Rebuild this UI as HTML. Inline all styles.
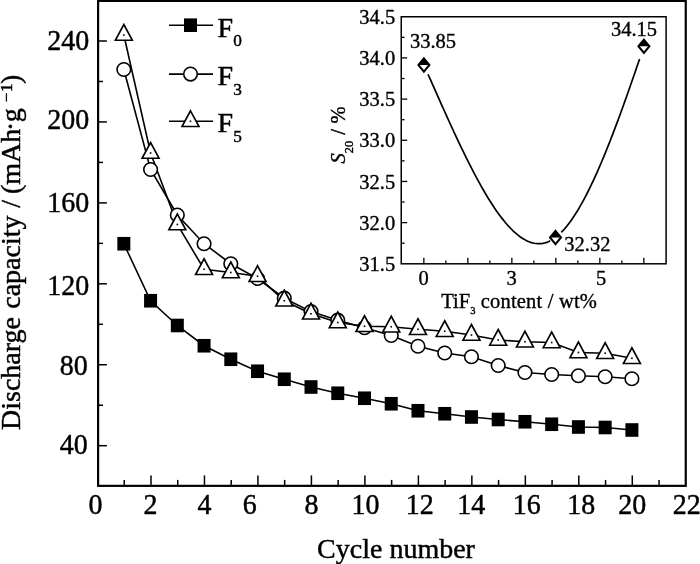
<!DOCTYPE html>
<html><head><meta charset="utf-8"><title>Chart</title>
<style>html,body{margin:0;padding:0;background:#fff;}svg{display:block;will-change:transform;}</style></head>
<body>
<svg width="700" height="564" viewBox="0 0 700 564" font-family="Liberation Serif, serif">
<rect x="98.1" y="0.9" width="587.65" height="484.95" fill="none" stroke="#000" stroke-width="2.2"/>
<g stroke="#000" stroke-width="1.5">
<line x1="98" x2="106.9" y1="445.70" y2="445.70"/>
<line x1="98" x2="103" y1="405.23" y2="405.23"/>
<line x1="98" x2="106.9" y1="364.76" y2="364.76"/>
<line x1="98" x2="103" y1="324.29" y2="324.29"/>
<line x1="98" x2="106.9" y1="283.82" y2="283.82"/>
<line x1="98" x2="103" y1="243.35" y2="243.35"/>
<line x1="98" x2="106.9" y1="202.88" y2="202.88"/>
<line x1="98" x2="103" y1="162.41" y2="162.41"/>
<line x1="98" x2="106.9" y1="121.94" y2="121.94"/>
<line x1="98" x2="103" y1="81.47" y2="81.47"/>
<line x1="98" x2="106.9" y1="41.00" y2="41.00"/>
<line x1="124.24" x2="124.24" y1="485.8" y2="479.90000000000003"/>
<line x1="150.98" x2="150.98" y1="485.8" y2="475.40000000000003"/>
<line x1="177.72" x2="177.72" y1="485.8" y2="479.90000000000003"/>
<line x1="204.46" x2="204.46" y1="485.8" y2="475.40000000000003"/>
<line x1="231.20" x2="231.20" y1="485.8" y2="479.90000000000003"/>
<line x1="257.94" x2="257.94" y1="485.8" y2="475.40000000000003"/>
<line x1="284.68" x2="284.68" y1="485.8" y2="479.90000000000003"/>
<line x1="311.42" x2="311.42" y1="485.8" y2="475.40000000000003"/>
<line x1="338.16" x2="338.16" y1="485.8" y2="479.90000000000003"/>
<line x1="364.90" x2="364.90" y1="485.8" y2="475.40000000000003"/>
<line x1="391.64" x2="391.64" y1="485.8" y2="479.90000000000003"/>
<line x1="418.38" x2="418.38" y1="485.8" y2="475.40000000000003"/>
<line x1="445.12" x2="445.12" y1="485.8" y2="479.90000000000003"/>
<line x1="471.86" x2="471.86" y1="485.8" y2="475.40000000000003"/>
<line x1="498.60" x2="498.60" y1="485.8" y2="479.90000000000003"/>
<line x1="525.34" x2="525.34" y1="485.8" y2="475.40000000000003"/>
<line x1="552.08" x2="552.08" y1="485.8" y2="479.90000000000003"/>
<line x1="578.82" x2="578.82" y1="485.8" y2="475.40000000000003"/>
<line x1="605.56" x2="605.56" y1="485.8" y2="479.90000000000003"/>
<line x1="632.30" x2="632.30" y1="485.8" y2="475.40000000000003"/>
<line x1="659.04" x2="659.04" y1="485.8" y2="479.90000000000003"/>
</g>
<g fill="#000" stroke="#000" stroke-width="0.45">
<text transform="translate(89.30,49.60) scale(1,1.035)" font-size="28" text-anchor="end">240</text>
<text transform="translate(89.30,128.90) scale(1,1.035)" font-size="28" text-anchor="end">200</text>
<text transform="translate(89.30,212.20) scale(1,1.035)" font-size="28" text-anchor="end">160</text>
<text transform="translate(89.30,295.00) scale(1,1.035)" font-size="28" text-anchor="end">120</text>
<text transform="translate(87.70,374.90) scale(1,1.035)" font-size="28" text-anchor="end">80</text>
<text transform="translate(87.70,454.30) scale(1,1.035)" font-size="28" text-anchor="end">40</text>
<text transform="translate(95.40,514.20) scale(1,1.035)" font-size="28" text-anchor="middle">0</text>
<text transform="translate(150.38,514.20) scale(1,1.035)" font-size="28" text-anchor="middle">2</text>
<text transform="translate(204.46,514.20) scale(1,1.035)" font-size="28" text-anchor="middle">4</text>
<text transform="translate(249.84,514.20) scale(1,1.035)" font-size="28" text-anchor="middle">6</text>
<text transform="translate(311.42,514.20) scale(1,1.035)" font-size="28" text-anchor="middle">8</text>
<text transform="translate(365.60,514.20) scale(1,1.035)" font-size="28" text-anchor="middle">10</text>
<text transform="translate(419.68,514.20) scale(1,1.035)" font-size="28" text-anchor="middle">12</text>
<text transform="translate(471.16,514.20) scale(1,1.035)" font-size="28" text-anchor="middle">14</text>
<text transform="translate(526.84,514.20) scale(1,1.035)" font-size="28" text-anchor="middle">16</text>
<text transform="translate(581.32,514.20) scale(1,1.035)" font-size="28" text-anchor="middle">18</text>
<text transform="translate(632.30,514.20) scale(1,1.035)" font-size="28" text-anchor="middle">20</text>
<text transform="translate(686.78,514.20) scale(1,1.035)" font-size="28" text-anchor="middle">22</text>
<text transform="translate(396.00,557.60) scale(1,1.0)" font-size="28" text-anchor="middle">Cycle number</text>
<g transform="translate(20.1,0) rotate(-90)">
<text transform="translate(-430.00,0.00) scale(1,1.0)" font-size="28" text-anchor="start">Discharge</text>
<text transform="translate(-308.80,0.00) scale(1,1.0)" font-size="28" text-anchor="start">capacity</text>
<text transform="translate(-207.80,0.00) scale(1,1.0)" font-size="28" text-anchor="start">/</text>
<text transform="translate(-194.00,0.00) scale(1,1.0)" font-size="28" text-anchor="start">(mAh</text>
<text transform="translate(-130.90,0.00) scale(1,1.0)" font-size="28" text-anchor="start">·</text>
<text transform="translate(-122.30,0.00) scale(1,1.0)" font-size="28" text-anchor="start">g</text>
<text transform="translate(-102.30,-7.80) scale(1,1.0)" font-size="17" text-anchor="start">−</text>
<text transform="translate(-92.10,-7.80) scale(1,1.0)" font-size="17" text-anchor="start">1</text>
<text transform="translate(-84.10,0.00) scale(1,1.0)" font-size="28" text-anchor="start">)</text>
</g>
</g>
<g stroke="#000" stroke-width="1.6" fill="none">
<polyline points="123.84,243.75 150.58,300.75 177.32,325.50 204.06,345.75 230.80,359.25 257.54,371.25 284.28,379.25 311.02,387.00 337.76,393.25 364.50,398.25 391.24,403.75 417.98,410.75 444.72,413.75 471.46,417.00 498.20,419.50 524.94,421.75 551.68,424.25 578.42,427.00 605.16,427.50 631.90,430.00"/>
<polyline points="123.84,69.50 150.58,169.50 177.32,215.00 204.06,243.75 230.80,263.75 257.54,278.50 284.28,298.20 311.02,311.60 337.76,320.20 364.50,327.75 391.24,335.50 417.98,346.25 444.72,353.00 471.46,356.75 498.20,365.50 524.94,372.50 551.68,374.50 578.42,375.75 605.16,376.75 631.90,378.75"/>
<polyline points="123.84,35.00 150.58,153.00 177.32,224.50 204.06,269.25 230.80,272.50 257.54,276.25 284.28,300.75 311.02,313.75 337.76,322.50 364.50,326.25 391.24,326.75 417.98,329.25 444.72,331.25 471.46,335.00 498.20,340.00 524.94,341.75 551.68,342.50 578.42,352.50 605.16,353.25 631.90,358.25"/>
<line x1="169" x2="213" y1="25.2" y2="25.2"/>
<line x1="169" x2="213" y1="74.1" y2="74.1"/>
<line x1="169" x2="213" y1="121.3" y2="121.3"/>
</g>
<rect x="117.34" y="236.95" width="13" height="13.6" fill="#000"/>
<rect x="144.08" y="293.95" width="13" height="13.6" fill="#000"/>
<rect x="170.82" y="318.70" width="13" height="13.6" fill="#000"/>
<rect x="197.56" y="338.95" width="13" height="13.6" fill="#000"/>
<rect x="224.30" y="352.45" width="13" height="13.6" fill="#000"/>
<rect x="251.04" y="364.45" width="13" height="13.6" fill="#000"/>
<rect x="277.78" y="372.45" width="13" height="13.6" fill="#000"/>
<rect x="304.52" y="380.20" width="13" height="13.6" fill="#000"/>
<rect x="331.26" y="386.45" width="13" height="13.6" fill="#000"/>
<rect x="358.00" y="391.45" width="13" height="13.6" fill="#000"/>
<rect x="384.74" y="396.95" width="13" height="13.6" fill="#000"/>
<rect x="411.48" y="403.95" width="13" height="13.6" fill="#000"/>
<rect x="438.22" y="406.95" width="13" height="13.6" fill="#000"/>
<rect x="464.96" y="410.20" width="13" height="13.6" fill="#000"/>
<rect x="491.70" y="412.70" width="13" height="13.6" fill="#000"/>
<rect x="518.44" y="414.95" width="13" height="13.6" fill="#000"/>
<rect x="545.18" y="417.45" width="13" height="13.6" fill="#000"/>
<rect x="571.92" y="420.20" width="13" height="13.6" fill="#000"/>
<rect x="598.66" y="420.70" width="13" height="13.6" fill="#000"/>
<rect x="625.40" y="423.20" width="13" height="13.6" fill="#000"/>
<circle cx="123.84" cy="69.50" r="6.8" fill="#fff" stroke="#000" stroke-width="1.6"/>
<circle cx="150.58" cy="169.50" r="6.8" fill="#fff" stroke="#000" stroke-width="1.6"/>
<circle cx="177.32" cy="215.00" r="6.8" fill="#fff" stroke="#000" stroke-width="1.6"/>
<circle cx="204.06" cy="243.75" r="6.8" fill="#fff" stroke="#000" stroke-width="1.6"/>
<circle cx="230.80" cy="263.75" r="6.8" fill="#fff" stroke="#000" stroke-width="1.6"/>
<circle cx="257.54" cy="278.50" r="6.8" fill="#fff" stroke="#000" stroke-width="1.6"/>
<circle cx="284.28" cy="298.20" r="6.8" fill="#fff" stroke="#000" stroke-width="1.6"/>
<circle cx="311.02" cy="311.60" r="6.8" fill="#fff" stroke="#000" stroke-width="1.6"/>
<circle cx="337.76" cy="320.20" r="6.8" fill="#fff" stroke="#000" stroke-width="1.6"/>
<circle cx="364.50" cy="327.75" r="6.8" fill="#fff" stroke="#000" stroke-width="1.6"/>
<circle cx="391.24" cy="335.50" r="6.8" fill="#fff" stroke="#000" stroke-width="1.6"/>
<circle cx="417.98" cy="346.25" r="6.8" fill="#fff" stroke="#000" stroke-width="1.6"/>
<circle cx="444.72" cy="353.00" r="6.8" fill="#fff" stroke="#000" stroke-width="1.6"/>
<circle cx="471.46" cy="356.75" r="6.8" fill="#fff" stroke="#000" stroke-width="1.6"/>
<circle cx="498.20" cy="365.50" r="6.8" fill="#fff" stroke="#000" stroke-width="1.6"/>
<circle cx="524.94" cy="372.50" r="6.8" fill="#fff" stroke="#000" stroke-width="1.6"/>
<circle cx="551.68" cy="374.50" r="6.8" fill="#fff" stroke="#000" stroke-width="1.6"/>
<circle cx="578.42" cy="375.75" r="6.8" fill="#fff" stroke="#000" stroke-width="1.6"/>
<circle cx="605.16" cy="376.75" r="6.8" fill="#fff" stroke="#000" stroke-width="1.6"/>
<circle cx="631.90" cy="378.75" r="6.8" fill="#fff" stroke="#000" stroke-width="1.6"/>
<path d="M123.84,24.50 L132.34,40.25 L115.34,40.25 Z" fill="#fff" stroke="#000" stroke-width="1.6" stroke-linejoin="miter"/><rect x="123.04" y="34.20" width="1.6" height="1.6" fill="#000"/>
<path d="M150.58,142.50 L159.08,158.25 L142.08,158.25 Z" fill="#fff" stroke="#000" stroke-width="1.6" stroke-linejoin="miter"/><rect x="149.78" y="152.20" width="1.6" height="1.6" fill="#000"/>
<path d="M177.32,214.00 L185.82,229.75 L168.82,229.75 Z" fill="#fff" stroke="#000" stroke-width="1.6" stroke-linejoin="miter"/><rect x="176.52" y="223.70" width="1.6" height="1.6" fill="#000"/>
<path d="M204.06,258.75 L212.56,274.50 L195.56,274.50 Z" fill="#fff" stroke="#000" stroke-width="1.6" stroke-linejoin="miter"/><rect x="203.26" y="268.45" width="1.6" height="1.6" fill="#000"/>
<path d="M230.80,262.00 L239.30,277.75 L222.30,277.75 Z" fill="#fff" stroke="#000" stroke-width="1.6" stroke-linejoin="miter"/><rect x="230.00" y="271.70" width="1.6" height="1.6" fill="#000"/>
<path d="M257.54,265.75 L266.04,281.50 L249.04,281.50 Z" fill="#fff" stroke="#000" stroke-width="1.6" stroke-linejoin="miter"/><rect x="256.74" y="275.45" width="1.6" height="1.6" fill="#000"/>
<path d="M284.28,290.25 L292.78,306.00 L275.78,306.00 Z" fill="#fff" stroke="#000" stroke-width="1.6" stroke-linejoin="miter"/><rect x="283.48" y="299.95" width="1.6" height="1.6" fill="#000"/>
<path d="M311.02,303.25 L319.52,319.00 L302.52,319.00 Z" fill="#fff" stroke="#000" stroke-width="1.6" stroke-linejoin="miter"/><rect x="310.22" y="312.95" width="1.6" height="1.6" fill="#000"/>
<path d="M337.76,312.00 L346.26,327.75 L329.26,327.75 Z" fill="#fff" stroke="#000" stroke-width="1.6" stroke-linejoin="miter"/><rect x="336.96" y="321.70" width="1.6" height="1.6" fill="#000"/>
<path d="M364.50,315.75 L373.00,331.50 L356.00,331.50 Z" fill="#fff" stroke="#000" stroke-width="1.6" stroke-linejoin="miter"/><rect x="363.70" y="325.45" width="1.6" height="1.6" fill="#000"/>
<path d="M391.24,316.25 L399.74,332.00 L382.74,332.00 Z" fill="#fff" stroke="#000" stroke-width="1.6" stroke-linejoin="miter"/><rect x="390.44" y="325.95" width="1.6" height="1.6" fill="#000"/>
<path d="M417.98,318.75 L426.48,334.50 L409.48,334.50 Z" fill="#fff" stroke="#000" stroke-width="1.6" stroke-linejoin="miter"/><rect x="417.18" y="328.45" width="1.6" height="1.6" fill="#000"/>
<path d="M444.72,320.75 L453.22,336.50 L436.22,336.50 Z" fill="#fff" stroke="#000" stroke-width="1.6" stroke-linejoin="miter"/><rect x="443.92" y="330.45" width="1.6" height="1.6" fill="#000"/>
<path d="M471.46,324.50 L479.96,340.25 L462.96,340.25 Z" fill="#fff" stroke="#000" stroke-width="1.6" stroke-linejoin="miter"/><rect x="470.66" y="334.20" width="1.6" height="1.6" fill="#000"/>
<path d="M498.20,329.50 L506.70,345.25 L489.70,345.25 Z" fill="#fff" stroke="#000" stroke-width="1.6" stroke-linejoin="miter"/><rect x="497.40" y="339.20" width="1.6" height="1.6" fill="#000"/>
<path d="M524.94,331.25 L533.44,347.00 L516.44,347.00 Z" fill="#fff" stroke="#000" stroke-width="1.6" stroke-linejoin="miter"/><rect x="524.14" y="340.95" width="1.6" height="1.6" fill="#000"/>
<path d="M551.68,332.00 L560.18,347.75 L543.18,347.75 Z" fill="#fff" stroke="#000" stroke-width="1.6" stroke-linejoin="miter"/><rect x="550.88" y="341.70" width="1.6" height="1.6" fill="#000"/>
<path d="M578.42,342.00 L586.92,357.75 L569.92,357.75 Z" fill="#fff" stroke="#000" stroke-width="1.6" stroke-linejoin="miter"/><rect x="577.62" y="351.70" width="1.6" height="1.6" fill="#000"/>
<path d="M605.16,342.75 L613.66,358.50 L596.66,358.50 Z" fill="#fff" stroke="#000" stroke-width="1.6" stroke-linejoin="miter"/><rect x="604.36" y="352.45" width="1.6" height="1.6" fill="#000"/>
<path d="M631.90,347.75 L640.40,363.50 L623.40,363.50 Z" fill="#fff" stroke="#000" stroke-width="1.6" stroke-linejoin="miter"/><rect x="631.10" y="357.45" width="1.6" height="1.6" fill="#000"/>
<rect x="184.00" y="18.40" width="13" height="13.6" fill="#000"/>
<circle cx="190.50" cy="74.10" r="6.8" fill="#fff" stroke="#000" stroke-width="1.6"/>
<path d="M190.50,110.80 L199.00,126.55 L182.00,126.55 Z" fill="#fff" stroke="#000" stroke-width="1.6" stroke-linejoin="miter"/><rect x="189.70" y="120.50" width="1.6" height="1.6" fill="#000"/>
<g fill="#000" stroke="#000" stroke-width="0.45">
<text transform="translate(217.60,36.50) scale(1,1.0)" font-size="28" text-anchor="start">F<tspan font-size="17.3" dy="9.4">0</tspan></text>
<text transform="translate(217.60,85.40) scale(1,1.0)" font-size="28" text-anchor="start">F<tspan font-size="17.3" dy="9.4">3</tspan></text>
<text transform="translate(217.60,132.10) scale(1,1.0)" font-size="28" text-anchor="start">F<tspan font-size="17.3" dy="9.4">5</tspan></text>
</g>
<rect x="401.25" y="16.75" width="264.85" height="247.05" fill="none" stroke="#000" stroke-width="1.5"/>
<g stroke="#000" stroke-width="1.3">
<line x1="401.25" x2="404.55" y1="37.34" y2="37.34"/>
<line x1="401.25" x2="407.25" y1="57.93" y2="57.93"/>
<line x1="401.25" x2="404.55" y1="78.51" y2="78.51"/>
<line x1="401.25" x2="407.25" y1="99.10" y2="99.10"/>
<line x1="401.25" x2="404.55" y1="119.69" y2="119.69"/>
<line x1="401.25" x2="407.25" y1="140.28" y2="140.28"/>
<line x1="401.25" x2="404.55" y1="160.86" y2="160.86"/>
<line x1="401.25" x2="407.25" y1="181.45" y2="181.45"/>
<line x1="401.25" x2="404.55" y1="202.04" y2="202.04"/>
<line x1="401.25" x2="407.25" y1="222.62" y2="222.62"/>
<line x1="401.25" x2="404.55" y1="243.21" y2="243.21"/>
<line x1="423.85" x2="423.85" y1="263.8" y2="257.8"/>
<line x1="445.85" x2="445.85" y1="263.8" y2="260.5"/>
<line x1="467.85" x2="467.85" y1="263.8" y2="257.8"/>
<line x1="489.85" x2="489.85" y1="263.8" y2="260.5"/>
<line x1="511.85" x2="511.85" y1="263.8" y2="257.8"/>
<line x1="533.85" x2="533.85" y1="263.8" y2="260.5"/>
<line x1="555.85" x2="555.85" y1="263.8" y2="257.8"/>
<line x1="577.85" x2="577.85" y1="263.8" y2="260.5"/>
<line x1="599.85" x2="599.85" y1="263.8" y2="257.8"/>
<line x1="621.85" x2="621.85" y1="263.8" y2="260.5"/>
<line x1="643.85" x2="643.85" y1="263.8" y2="257.8"/>
</g>
<g fill="#000" stroke="#000" stroke-width="0.36">
<text transform="translate(395.20,23.85) scale(1,1.035)" font-size="20.5" text-anchor="end">34.5</text>
<text transform="translate(395.20,65.03) scale(1,1.035)" font-size="20.5" text-anchor="end">34.0</text>
<text transform="translate(395.20,106.20) scale(1,1.035)" font-size="20.5" text-anchor="end">33.5</text>
<text transform="translate(395.20,147.38) scale(1,1.035)" font-size="20.5" text-anchor="end">33.0</text>
<text transform="translate(395.20,188.55) scale(1,1.035)" font-size="20.5" text-anchor="end">32.5</text>
<text transform="translate(395.20,229.73) scale(1,1.035)" font-size="20.5" text-anchor="end">32.0</text>
<text transform="translate(395.20,270.90) scale(1,1.035)" font-size="20.5" text-anchor="end">31.5</text>
<text transform="translate(423.75,285.40) scale(1,1.035)" font-size="20.5" text-anchor="middle">0</text>
<text transform="translate(511.75,285.40) scale(1,1.035)" font-size="20.5" text-anchor="middle">3</text>
<text transform="translate(601.25,285.40) scale(1,1.035)" font-size="20.5" text-anchor="middle">5</text>
<text transform="translate(410.00,48.40) scale(1,1.035)" font-size="20.5" text-anchor="start">33.85</text>
<text transform="translate(610.90,36.10) scale(1,1.035)" font-size="20.5" text-anchor="start">34.15</text>
<text transform="translate(564.30,250.80) scale(1,1.035)" font-size="20.5" text-anchor="start">32.32</text>
<text transform="translate(441.30,307.50) scale(1,1.0)" font-size="20.5" text-anchor="start">TiF<tspan font-size="10.6" dy="6">3</tspan><tspan dy="-6" letter-spacing="0.18"> content / wt%</tspan></text>
<g transform="translate(345,163.4) rotate(-90)">
<text transform="translate(0.00,0.00) scale(1,1.0)" font-size="20.5" text-anchor="start"><tspan font-style="italic">S</tspan><tspan font-size="12.4" dy="7.5">20</tspan><tspan dy="-7.5" dx="0.6" word-spacing="0.4"> / %</tspan></text>
</g>
</g>
<polyline points="428.00,74.22 429.77,78.21 431.54,82.20 433.31,86.19 435.08,90.18 436.86,94.16 438.63,98.14 440.40,102.11 442.17,106.07 443.94,110.02 445.71,113.95 447.48,117.87 449.25,121.77 451.02,125.64 452.79,129.49 454.57,133.32 456.34,137.12 458.11,140.89 459.88,144.62 461.65,148.32 463.42,151.99 465.19,155.61 466.96,159.20 468.73,162.74 470.50,166.23 472.28,169.68 474.05,173.08 475.82,176.43 477.59,179.72 479.36,182.95 481.13,186.13 482.90,189.24 484.67,192.30 486.44,195.28 488.21,198.20 489.99,201.05 491.76,203.83 493.53,206.54 495.30,209.16 497.07,211.71 498.84,214.18 500.61,216.57 502.38,218.87 504.15,221.08 505.92,223.21 507.70,225.24 509.47,227.18 511.24,229.02 513.01,230.77 514.78,232.41 516.55,233.95 518.32,235.39 520.09,236.72 521.86,237.94 523.63,239.05 525.41,240.05 527.18,240.93 528.95,241.69 530.72,242.34 532.49,242.86 534.26,243.25 536.03,243.52 537.80,243.66 539.57,243.67 541.34,243.55 543.12,243.29 544.89,242.89 546.66,242.36 548.43,241.68 550.20,240.85" fill="none" stroke="#000" stroke-width="1.7" stroke-linejoin="round"/>
<polyline points="561.30,232.38 562.43,231.21 563.57,229.98 564.70,228.70 565.84,227.36 566.97,225.97 568.11,224.53 569.24,223.04 570.38,221.50 571.51,219.91 572.65,218.27 573.78,216.58 574.92,214.84 576.05,213.05 577.19,211.22 578.32,209.34 579.46,207.42 580.59,205.45 581.73,203.44 582.86,201.39 584.00,199.29 585.13,197.15 586.27,194.98 587.40,192.76 588.53,190.50 589.67,188.20 590.80,185.86 591.94,183.49 593.07,181.08 594.21,178.63 595.34,176.15 596.48,173.63 597.61,171.08 598.75,168.49 599.88,165.87 601.02,163.22 602.15,160.54 603.29,157.83 604.42,155.09 605.56,152.32 606.69,149.51 607.83,146.69 608.96,143.83 610.10,140.95 611.23,138.04 612.37,135.11 613.50,132.15 614.63,129.17 615.77,126.16 616.90,123.13 618.04,120.08 619.17,117.01 620.31,113.92 621.44,110.81 622.58,107.68 623.71,104.54 624.85,101.37 625.98,98.19 627.12,94.99 628.25,91.77 629.39,88.54 630.52,85.30 631.66,82.04 632.79,78.77 633.93,75.49 635.06,72.20 636.20,68.89 637.33,65.58 638.47,62.25 639.60,58.92" fill="none" stroke="#000" stroke-width="1.7" stroke-linejoin="round"/>
<path d="M423.9,58.3 L429.4,65.0 L423.9,71.7 L418.4,65.0 Z" fill="#fff" stroke="#000" stroke-width="2" stroke-linejoin="miter"/><path d="M423.9,58.3 L429.4,65.0 L418.4,65.0 Z" fill="#000"/>
<path d="M555.5,230.8 L561.0,237.5 L555.5,244.2 L550.0,237.5 Z" fill="#fff" stroke="#000" stroke-width="2" stroke-linejoin="miter"/><path d="M555.5,230.8 L561.0,237.5 L550.0,237.5 Z" fill="#000"/>
<path d="M643.9,39.55 L649.4,46.25 L643.9,52.95 L638.4,46.25 Z" fill="#fff" stroke="#000" stroke-width="2" stroke-linejoin="miter"/><path d="M643.9,39.55 L649.4,46.25 L638.4,46.25 Z" fill="#000"/>
</svg>
</body></html>
